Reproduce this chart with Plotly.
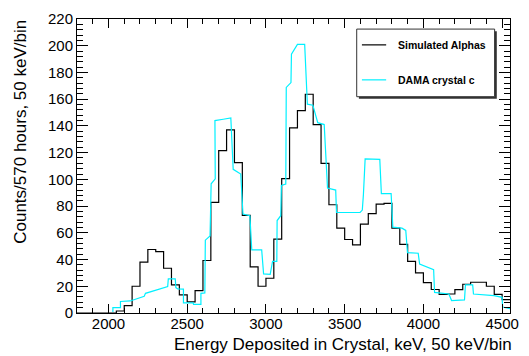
import plotly.graph_objects as go

# 50 keV bins from 1800 keV to 4550 keV
bin_width_kev = 50
bin_start_kev = list(range(1800, 4550, bin_width_kev))

# Simulated alpha spectrum, counts per bin
simulated_alphas = [
    0, 0, 0, 0, 0,
    1.5, 5.5, 20, 38, 47.5, 46, 33.5, 21, 13.5, 8.3,
    16.7, 39.3, 82.8, 121.5, 137, 112.5, 73, 34.5, 20, 26,
    55.3, 100.5, 138.5, 151.5, 163.7, 141, 112, 81, 63.5, 55,
    51, 66.5, 74.3, 81.5, 82, 63.5, 51.3, 38.6, 30, 22.7,
    17.6, 14, 14.2, 17.5, 21.5, 23, 23, 20, 14, 10,
]

# DAMA crystal c spectrum (traced outline)
dama_energy = [
    2028, 2028, 2076, 2076, 2138, 2227, 2235, 2376, 2380, 2424,
    2428, 2440, 2476, 2476, 2538, 2540, 2587, 2587, 2612, 2615,
    2645, 2652, 2678, 2676, 2729, 2777, 2792, 2840, 2854, 2898,
    2910, 2973, 2985, 3027, 3042, 3069, 3071, 3094, 3098, 3126,
    3129, 3159, 3162, 3200, 3246, 3263, 3298, 3329, 3370, 3391,
    3443, 3448, 3598, 3612, 3619, 3630, 3723, 3733, 3795, 3806,
    3864, 3888, 3899, 3967, 3976, 4065, 4071, 4162, 4179, 4261,
    4267, 4313, 4318, 4448, 4500, 4503, 4550,
]
dama_counts = [
    0.7, 4, 4, 8.6, 9, 12.5, 14.7, 19.8, 25.6, 25.6,
    19, 18, 17.9, 7.6, 7.6, 6.4, 6.4, 14.7, 15, 54.5,
    57.6, 96.7, 100.4, 144, 145, 146, 107.5, 104, 74, 72.8,
    47.2, 47.2, 29.3, 29, 38.6, 38.6, 69.2, 72.8, 95.5, 96.5,
    168.8, 172.4, 193.7, 201, 201, 156.3, 155.5, 142.4, 141, 93.5,
    92, 75.2, 75.2, 77, 88.6, 115.3, 115, 89.4, 89.4, 64.2,
    63.5, 61.8, 45.2, 44.7, 36.6, 32.5, 15.4, 14.2, 9.3, 9.8,
    21, 21, 14.2, 13, 11.7, 4.4, 3.2,
]

x_ticks = [2000, 2500, 3000, 3500, 4000, 4500]
y_ticks = list(range(0, 221, 20))

font_family = "Liberation Sans, Arial, Helvetica, sans-serif"
cyan = "#00f0ff"

fig = go.Figure()

# histogram outline: step at every bin edge, last bin closed at 4550
hist_x = bin_start_kev + [bin_start_kev[-1] + bin_width_kev]
hist_y = simulated_alphas + [simulated_alphas[-1]]
fig.add_trace(go.Scatter(
    x=hist_x, y=hist_y, mode="lines", line_shape="hv",
    line=dict(color="black", width=1.2), name="Simulated Alphas",
    showlegend=False,
))
fig.add_trace(go.Scatter(
    x=dama_energy, y=dama_counts, mode="lines",
    line=dict(color=cyan, width=1.2), name="DAMA crystal c",
    showlegend=False,
))

axis_common = dict(
    showline=True, linecolor="black", linewidth=1, mirror="ticks",
    ticks="inside", tickcolor="black", tickwidth=1,
    showgrid=False, zeroline=False,
    tickfont=dict(family=font_family, size=15, color="black"),
)

fig.update_xaxes(
    range=[1800, 4550], tickvals=x_ticks, ticklen=9, ticklabelstandoff=-3,
    minor=dict(ticks="inside", dtick=100, tick0=1800, ticklen=5,
               tickcolor="black", tickwidth=1, showgrid=False),
    **axis_common,
)
fig.update_yaxes(
    range=[0, 220], tickvals=y_ticks, ticklen=11,
    minor=dict(ticks="inside", dtick=4, tick0=0, ticklen=6,
               tickcolor="black", tickwidth=1, showgrid=False),
    **axis_common,
)

# legend box drawn in paper coordinates, with a drop shadow
box_x0, box_x1, box_y0, box_y1 = 0.646, 0.9645, 0.7357, 0.9657
shapes = [
    dict(type="rect", xref="paper", yref="paper",
         x0=box_x0 + 0.005, x1=box_x1 + 0.005, y0=box_y0 - 0.007, y1=box_y1 - 0.007,
         fillcolor="#333333", line=dict(width=0)),
    dict(type="rect", xref="paper", yref="paper",
         x0=box_x0, x1=box_x1, y0=box_y0, y1=box_y1,
         fillcolor="white", line=dict(color="#333333", width=1)),
]
legend_rows = [("Simulated Alphas", "black", 0.912), ("DAMA crystal c", cyan, 0.793)]
annotations = []
for label, color, ypos in legend_rows:
    shapes.append(dict(type="line", xref="paper", yref="paper",
                       x0=0.658, x1=0.714, y0=ypos, y1=ypos,
                       line=dict(color=color, width=1.2)))
    annotations.append(dict(text=label, xref="paper", yref="paper",
                            x=0.7376, y=ypos, xanchor="left", yanchor="middle",
                            showarrow=False,
                            font=dict(family=font_family, size=10.5, color="black",
                                      weight="bold")))

annotations.append(dict(
    text="Energy Deposited in Crystal, keV, 50 keV/bin",
    xref="paper", yref="paper", x=1.01, y=-0.107,
    xanchor="right", yanchor="middle", showarrow=False,
    font=dict(family=font_family, size=17, color="black"),
))
annotations.append(dict(
    text="Counts/570 hours, 50 keV/bin",
    xref="paper", yref="paper", x=-0.1324, y=1.003,
    xanchor="center", yanchor="top", textangle=-90, showarrow=False,
    font=dict(family=font_family, size=17, color="black"),
))

fig.update_layout(
    width=529, height=356,
    margin=dict(l=77, r=10, t=13, b=43),
    paper_bgcolor="white", plot_bgcolor="white",
    shapes=shapes, annotations=annotations,
    showlegend=False,
)

fig.write_html("out.html")
